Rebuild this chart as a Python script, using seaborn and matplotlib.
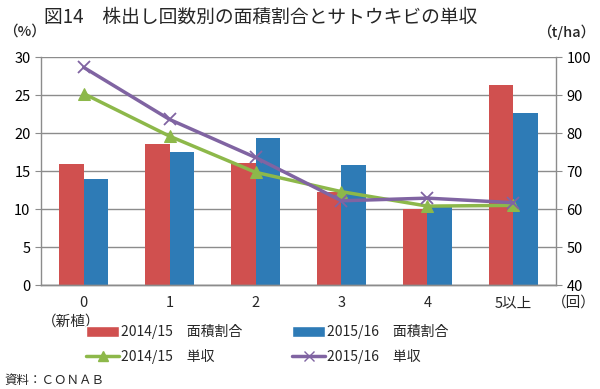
import numpy as np
import pandas as pd
import matplotlib
matplotlib.use("Agg")
import matplotlib.pyplot as plt
from matplotlib.patches import Patch
from matplotlib.lines import Line2D
import seaborn as sns

# データ
categories = ["0", "1", "2", "3", "4", "5以上"]
area_1415 = [16.0, 18.6, 16.1, 12.3, 10.0, 26.4]
area_1516 = [14.0, 17.5, 19.3, 15.8, 10.4, 22.6]
yield_1415 = [90.4, 79.2, 69.7, 64.6, 60.8, 61.0]
yield_1516 = [97.3, 83.6, 73.6, 62.2, 62.9, 61.7]
seasons = ["2014/15", "2015/16"]

c_red = "#D0504F"
c_blue = "#2E7BB6"
c_green = "#8DB84A"
c_purple = "#8064A2"
grid_c = "#8C8C8C"

sns.set_style("white")
plt.rcParams["font.family"] = ["Noto Sans CJK JP", "DejaVu Sans"]

df_bar = pd.DataFrame({
    "回数": categories * 2,
    "割合": area_1415 + area_1516,
    "年": [seasons[0]] * 6 + [seasons[1]] * 6,
})
df_line = pd.DataFrame({
    "x": list(range(len(categories))) * 2,
    "単収": yield_1415 + yield_1516,
    "年": [seasons[0]] * 6 + [seasons[1]] * 6,
})

fig = plt.figure(figsize=(6, 3.89), dpi=100)
ax = fig.add_axes([0.068, 0.267, 0.859, 0.586])

sns.barplot(data=df_bar, x="回数", y="割合", hue="年", order=categories,
            palette=[c_red, c_blue], width=0.57, gap=0, legend=False,
            edgecolor="none", saturation=1, ax=ax, zorder=2)
ax.set_ylim(0, 30)
ax.set_yticks(range(0, 31, 5))
ax.set_xlim(-0.5, 5.5)
ax.set_xlabel("")
ax.set_ylabel("")
ax.yaxis.grid(True, color=grid_c, linewidth=1)
ax.set_axisbelow(True)

ax2 = ax.twinx()
sns.lineplot(data=df_line[df_line["年"] == seasons[0]], x="x", y="単収",
             color=c_green, marker="^", markersize=8, markeredgecolor=c_green,
             linewidth=2.5, ax=ax2, legend=False)
sns.lineplot(data=df_line[df_line["年"] == seasons[1]], x="x", y="単収",
             color=c_purple, marker="x", markersize=8, markeredgewidth=1.3,
             markeredgecolor=c_purple, linewidth=2.5, ax=ax2, legend=False)
ax2.set_ylim(40, 100)
ax2.set_yticks(range(40, 101, 10))
ax2.set_xlim(-0.5, 5.5)
ax2.set_ylabel("")
ax2.set_xlabel("")

for a in (ax, ax2):
    for s in a.spines.values():
        s.set_color(grid_c)
        s.set_linewidth(1)
    a.spines["top"].set_visible(False)
    a.tick_params(axis="y", colors="black", labelsize=10.5, length=4, color=grid_c)
ax.spines["right"].set_visible(False)
ax2.spines["left"].set_visible(False)

# x軸: 目盛り線は区切り位置に
ax.set_xticks(range(len(categories)))
ax.set_xticklabels(categories, fontsize=10.5)
ax.set_xticks(np.arange(-0.5, 6, 1), minor=True)
ax.tick_params(axis="x", which="major", length=0, pad=8)
ax.tick_params(axis="x", which="minor", length=5, color=grid_c)

fig.text(0.073, 0.955, "図14　株出し回数別の面積割合とサトウキビの単収",
         fontsize=13.5, va="center", ha="left")
fig.text(0.005, 0.918, "（%）", fontsize=10.5, fontweight="medium", va="center", ha="left")
fig.text(0.993, 0.918, "（t/ha）", fontsize=10.5, fontweight="medium", va="center", ha="right")
fig.text(0.993, 0.222, "（回）", fontsize=10.5, va="center", ha="right")
fig.text(0.118, 0.172, "（新植）", fontsize=10.5, va="center", ha="center")
fig.text(0.008, 0.022, "資料：ＣＯＮＡＢ", fontsize=9, va="center", ha="left")

handles = [
    Patch(facecolor=c_red, label="2014/15　面積割合"),
    Line2D([], [], color=c_green, marker="^", linewidth=2.5, markersize=7,
           label="2014/15　単収"),
    Patch(facecolor=c_blue, label="2015/16　面積割合"),
    Line2D([], [], color=c_purple, marker="x", linewidth=2.5, markersize=7,
           label="2015/16　単収"),
]
fig.legend(handles=handles, ncol=2, loc="center", bbox_to_anchor=(0.445, 0.115),
           frameon=False, fontsize=10, handlelength=2.4, handleheight=0.8,
           columnspacing=3.6, handletextpad=0.1, labelspacing=0.75)

fig.savefig("out.png", dpi=100)
